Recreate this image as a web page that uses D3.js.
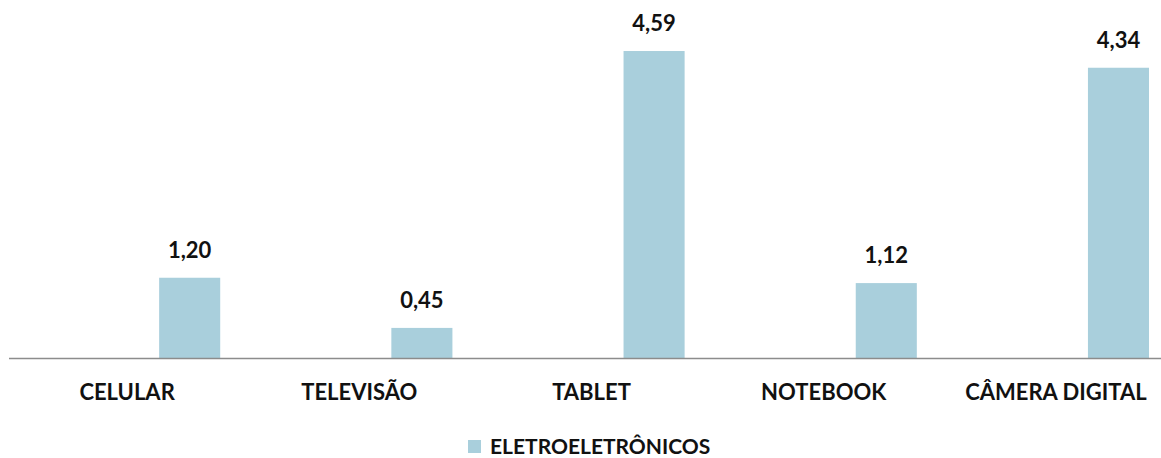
<!DOCTYPE html>
<html lang="pt">
<head>
  <meta charset="UTF-8">
  <title>Eletroeletrônicos</title>
  <script src="https://d3js.org/d3.v7.min.js"></script>
  <style>
    body { margin: 0; padding: 0; background: #fff; }
    svg { display: block; }
    text { font-family: Lato, "Open Sans", sans-serif; font-weight: bold; fill: #111; }
  </style>
</head>
<body>
  <div id="chart"></div>
  <script>
    const categories = ["CELULAR", "TELEVISÃO", "TABLET", "NOTEBOOK", "CÂMERA DIGITAL"];
    const values = [1.20, 0.45, 4.59, 1.12, 4.34];
    const seriesName = "ELETROELETRÔNICOS";

    const width = 1161, height = 458;
    const color = "#a9cfdc";
    const fmt = v => d3.format(".2f")(v).replace(".", ",");

    const svg = d3.select("#chart").append("svg")
      .attr("width", width)
      .attr("height", height);

    const x = d3.scaleBand()
      .domain(categories)
      .range([11, 1172])
      .padding(0);

    const y = d3.scaleLinear()
      .domain([0, 5])
      .range([358, 23.6]);

    const bw = x.bandwidth();
    const barX = d => x(d) + bw * 0.638;
    const barW = bw * 0.263;

    svg.append("g")
      .selectAll("rect")
      .data(categories)
      .join("rect")
      .attr("x", barX)
      .attr("y", (d, i) => y(values[i]))
      .attr("width", barW)
      .attr("height", (d, i) => y(0) - y(values[i]))
      .attr("fill", color);

    // value labels
    svg.append("g")
      .selectAll("text")
      .data(categories)
      .join("text")
      .attr("x", d => barX(d) + barW / 2)
      .attr("y", (d, i) => y(values[i]) - 20)
      .attr("text-anchor", "middle")
      .style("font-size", "22px")
      .text((d, i) => fmt(values[i]));

    // baseline
    svg.append("line")
      .attr("x1", 9).attr("x2", width)
      .attr("y1", y(0) + 0.5).attr("y2", y(0) + 0.5)
      .attr("stroke", "#8c8c8c")
      .attr("stroke-width", 1.3);

    // category labels
    svg.append("g")
      .selectAll("text")
      .data(categories)
      .join("text")
      .attr("x", d => x(d) + bw / 2)
      .attr("y", 400)
      .attr("text-anchor", "middle")
      .style("font-size", "22px")
      .text(d => d);

    // legend
    const legend = svg.append("g").attr("transform", "translate(468,440)");
    legend.append("rect")
      .attr("width", 13).attr("height", 13)
      .attr("fill", color);
    legend.append("text")
      .attr("x", 22).attr("y", 14)
      .style("font-size", "21px")
      .text(seriesName);
  </script>
</body>
</html>
